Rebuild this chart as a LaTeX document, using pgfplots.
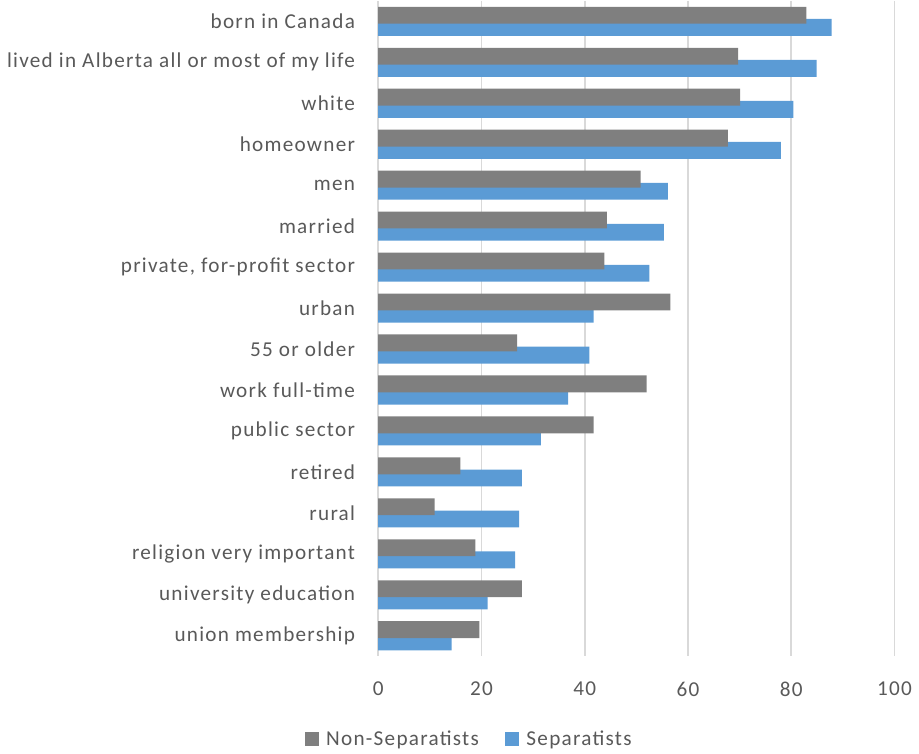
\documentclass[border=0pt]{standalone}
\usepackage{fontspec}
\setmainfont{Carlito}[LetterSpace=6]
\usepackage{pgfplots}
\pgfplotsset{compat=1.18}
\definecolor{nonsep}{HTML}{7F7F7F}
\definecolor{sep}{HTML}{5B9BD5}
\definecolor{txt}{HTML}{595959}
\definecolor{grd}{HTML}{D9D9D9}
\begin{document}
\fontsize{16pt}{19pt}\selectfont
\begin{tikzpicture}
\begin{axis}[
  scale only axis,
  width=390pt, height=495pt,
  xbar, bar width=12.75pt,
  xmin=0, xmax=100,
  ymin=-0.5, ymax=15.5,
  y dir=reverse,
  ytick={0,...,15},
  yticklabels={born in Canada, lived in Alberta all or most of my life, white, homeowner, men, married, {private, for-profit sector}, urban, 55 or older, work full-time, public sector, retired, rural, religion very important, university education, union membership},
  xtick={0,20,40,60,80,100},
  axis line style={draw=none},
  axis x line*=bottom, axis y line*=left,
  major tick length=0pt,
  xmajorgrids, major grid style={grd, line width=1.3pt},
  ticklabel style={font=\fontsize{16pt}{19pt}\selectfont, text=txt},
  /pgf/number format/assume math mode=true,
  xticklabel style={yshift=-14pt},
  yticklabel style={xshift=-12pt},
  legend style={at={(0.177,-0.127)}, anchor=center, draw=none, legend columns=2, font=\fontsize{16pt}{19pt}\selectfont, text=txt, /tikz/every even column/.append style={column sep=18pt}},
  legend image code/.code={\path[draw=none,fill=none] (0pt,0pt) -- (14pt,0pt);\fill[#1,draw=none] (0pt,-5pt) rectangle (10.5pt,5.5pt);},
]
\addplot[fill=sep, draw=none, bar shift=-4.6pt, forget plot] coordinates {
(87.8,0) (84.9,1) (80.4,2) (78.0,3) (56.1,4) (55.3,5) (52.5,6) (41.7,7) (40.9,8) (36.8,9) (31.5,10) (27.8,11) (27.3,12) (26.5,13) (21.2,14) (14.2,15)};
\addplot[fill=nonsep, draw=none, bar shift=4.6pt, forget plot] coordinates {
(82.9,0) (69.7,1) (70.1,2) (67.7,3) (50.8,4) (44.3,5) (43.8,6) (56.6,7) (26.9,8) (52.0,9) (41.7,10) (15.9,11) (10.9,12) (18.8,13) (27.8,14) (19.6,15)};
\addlegendimage{nonsep}
\addlegendentry{Non-Separatists}
\addlegendimage{sep}
\addlegendentry{Separatists}
\end{axis}
\end{tikzpicture}
\end{document}
